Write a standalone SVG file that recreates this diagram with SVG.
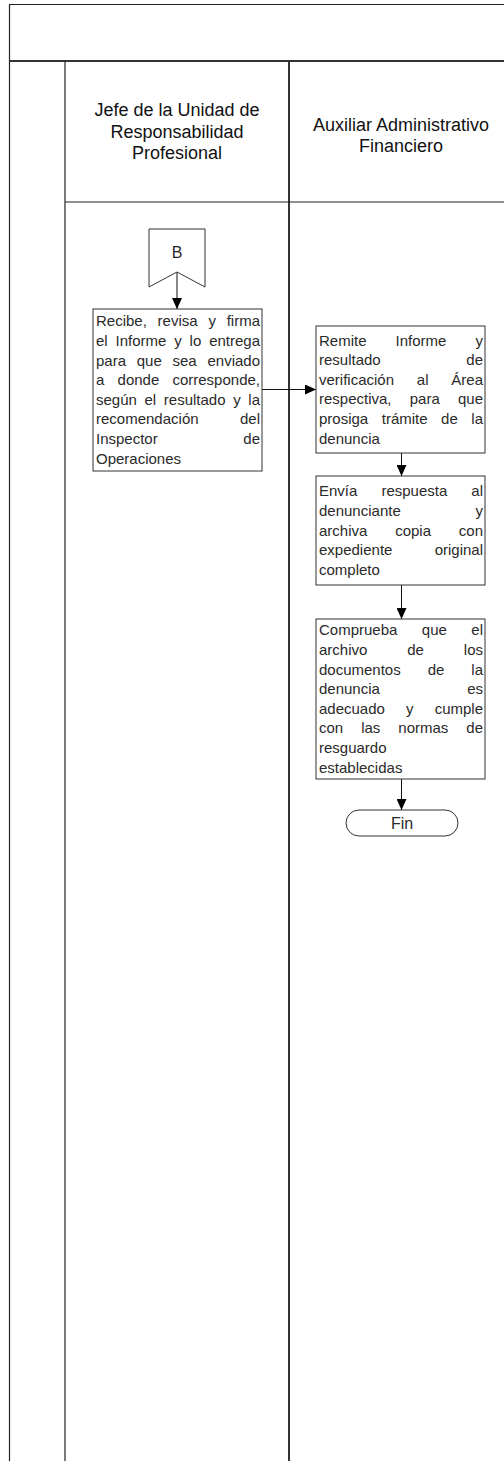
<svg xmlns="http://www.w3.org/2000/svg" width="504" height="1461" viewBox="0 0 504 1461">
<style>
.frame{stroke:#222;stroke-width:1.2;fill:none}
.thick{stroke:#333;stroke-width:2;fill:none}
.box{fill:#fff;stroke:#333;stroke-width:1}
.hdr{font-family:"Liberation Sans",Arial,sans-serif;font-size:18px;fill:#111;text-anchor:middle}
.t{font-family:"Liberation Sans",Arial,sans-serif;font-size:15px;fill:#2a2a2a}
.big{font-size:16px}
.e{text-anchor:end}
.c{text-anchor:middle}
.conn{stroke:#111;stroke-width:1;fill:none;marker-end:url(#arr)}
</style>
<defs>
<marker id="arr" markerUnits="userSpaceOnUse" markerWidth="12" markerHeight="10" refX="11" refY="5" orient="auto">
<path d="M0,0 L11,5 L0,10 z" fill="#000"/>
</marker>
</defs>
<rect width="504" height="1461" fill="#fff"/>
<g id="frame">
<line class="frame" x1="9" y1="4.5" x2="504" y2="4.5"/>
<line class="frame" x1="9.5" y1="4" x2="9.5" y2="1461"/>
<line class="thick" x1="9" y1="61" x2="504" y2="61"/>
<line class="frame" x1="65" y1="61" x2="65" y2="1461"/>
<line class="thick" x1="289" y1="61" x2="289" y2="1461"/>
<line class="frame" x1="65" y1="202" x2="504" y2="202"/>
</g>
<g id="lane1-header">
<text class="hdr" x="177" y="116">Jefe de la Unidad de</text>
<text class="hdr" x="177" y="137.5">Responsabilidad</text>
<text class="hdr" x="177" y="159">Profesional</text>
</g>
<g id="lane2-header">
<text class="hdr" x="401" y="131">Auxiliar Administrativo</text>
<text class="hdr" x="401" y="152">Financiero</text>
</g>
<g id="connectors">
<line class="conn" x1="177" y1="272" x2="177" y2="309"/>
<line class="conn" x1="262" y1="389.5" x2="316" y2="389.5"/>
<line class="conn" x1="401.5" y1="453" x2="401.5" y2="476"/>
<line class="conn" x1="401.5" y1="585" x2="401.5" y2="619"/>
<line class="conn" x1="401.5" y1="779" x2="401.5" y2="810"/>
</g>
<g id="connector-B">
<polygon class="box" points="149,229 205,229 205,287 177,272 149,287"/>
<text class="t c big" x="177" y="257.5">B</text>
</g>
<g id="step1">
<rect class="box" x="93" y="309" width="169" height="162"/>
<text class="t" x="96" y="326.4">Recibe,</text><text class="t" x="157.62" y="326.4">revisa</text><text class="t" x="208.4" y="326.4">y</text><text class="t e" x="260" y="326.4">firma</text>
<text class="t" x="96" y="346">el</text><text class="t" x="115.53" y="346">Informe</text><text class="t" x="174.24" y="346">y</text><text class="t" x="189.6" y="346">lo</text><text class="t e" x="260" y="346">entrega</text>
<text class="t" x="96" y="365.6">para</text><text class="t" x="136.77" y="365.6">que</text><text class="t" x="172.54" y="365.6">sea</text><text class="t e" x="260" y="365.6">enviado</text>
<text class="t" x="96" y="385.2">a</text><text class="t" x="117.55" y="385.2">donde</text><text class="t e" x="260" y="385.2">corresponde,</text>
<text class="t" x="96" y="404.8">según</text><text class="t" x="144.51" y="404.8">el</text><text class="t" x="163.83" y="404.8">resultado</text><text class="t" x="233.18" y="404.8">y</text><text class="t e" x="260" y="404.8">la</text>
<text class="t" x="96" y="424.4">recomendación</text><text class="t e" x="260" y="424.4">del</text>
<text class="t" x="96" y="444">Inspector</text><text class="t e" x="260" y="444">de</text>
<text class="t" x="96" y="463.6">Operaciones</text>
</g>
<g id="step2">
<rect class="box" x="316" y="326" width="169" height="127"/>
<text class="t" x="319" y="345.5">Remite</text><text class="t" x="395.58" y="345.5">Informe</text><text class="t e" x="483" y="345.5">y</text>
<text class="t" x="319" y="365.1">resultado</text><text class="t e" x="483" y="365.1">de</text>
<text class="t" x="319" y="384.7">verificación</text><text class="t" x="416.84" y="384.7">al</text><text class="t e" x="483" y="384.7">Área</text>
<text class="t" x="319" y="404.3">respectiva,</text><text class="t" x="409.75" y="404.3">para</text><text class="t e" x="483" y="404.3">que</text>
<text class="t" x="319" y="423.9">prosiga</text><text class="t" x="381.73" y="423.9">trámite</text><text class="t" x="441.11" y="423.9">de</text><text class="t e" x="483" y="423.9">la</text>
<text class="t" x="319" y="443.5">denuncia</text>
</g>
<g id="step3">
<rect class="box" x="316" y="476" width="169" height="109"/>
<text class="t" x="319" y="496.3">Envía</text><text class="t" x="381.41" y="496.3">respuesta</text><text class="t e" x="483" y="496.3">al</text>
<text class="t" x="319" y="515.9">denunciante</text><text class="t e" x="483" y="515.9">y</text>
<text class="t" x="319" y="535.5">archiva</text><text class="t" x="395.16" y="535.5">copia</text><text class="t e" x="483" y="535.5">con</text>
<text class="t" x="319" y="555.1">expediente</text><text class="t e" x="483" y="555.1">original</text>
<text class="t" x="319" y="574.7">completo</text>
</g>
<g id="step4">
<rect class="box" x="316" y="619" width="169" height="160"/>
<text class="t" x="319" y="635.4">Comprueba</text><text class="t" x="421.84" y="635.4">que</text><text class="t e" x="483" y="635.4">el</text>
<text class="t" x="319" y="655">archivo</text><text class="t" x="407.25" y="655">de</text><text class="t e" x="483" y="655">los</text>
<text class="t" x="319" y="674.6">documentos</text><text class="t" x="427.68" y="674.6">de</text><text class="t e" x="483" y="674.6">la</text>
<text class="t" x="319" y="694.2">denuncia</text><text class="t e" x="483" y="694.2">es</text>
<text class="t" x="319" y="713.8">adecuado</text><text class="t" x="406.02" y="713.8">y</text><text class="t e" x="483" y="713.8">cumple</text>
<text class="t" x="319" y="733.4">con</text><text class="t" x="361.17" y="733.4">las</text><text class="t" x="398.33" y="733.4">normas</text><text class="t e" x="483" y="733.4">de</text>
<text class="t" x="319" y="753">resguardo</text>
<text class="t" x="319" y="772.6">establecidas</text>
</g>
<g id="end">
<rect class="box" x="346" y="810" width="112" height="26" rx="13"/>
<text class="t c big" x="402" y="828.5">Fin</text>
</g>
</svg>
